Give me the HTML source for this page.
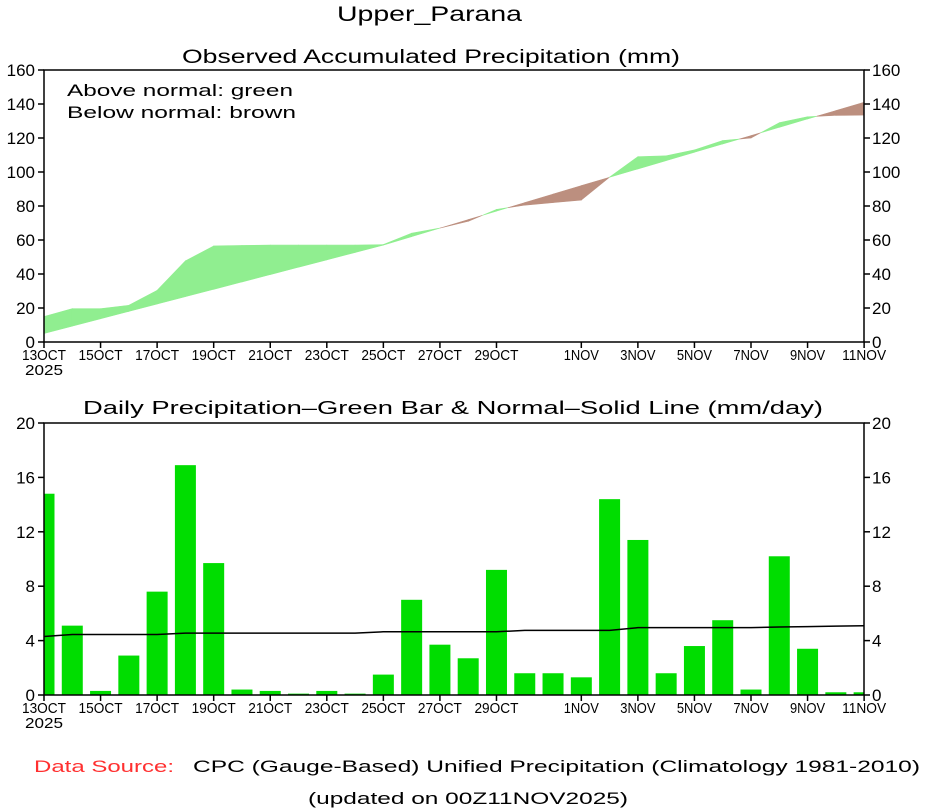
<!DOCTYPE html>
<html><head><meta charset="utf-8"><style>
body{margin:0;background:#fff}
svg{display:block}
text{font-family:"Liberation Sans",sans-serif;fill:#000}
</style></head><body>
<svg id="s" width="933" height="809" xmlns="http://www.w3.org/2000/svg">
<text x="337" y="21" font-size="21" textLength="185" lengthAdjust="spacingAndGlyphs">Upper_Parana</text>
<text x="182" y="63" font-size="19" textLength="498" lengthAdjust="spacingAndGlyphs">Observed Accumulated Precipitation (mm)</text>
<text x="83" y="414" font-size="18" textLength="740" lengthAdjust="spacingAndGlyphs">Daily Precipitation–Green Bar &amp; Normal–Solid Line (mm/day)</text>
<text x="67" y="96" font-size="17" textLength="226" lengthAdjust="spacingAndGlyphs">Above normal: green</text>
<text x="67" y="118" font-size="17" textLength="229" lengthAdjust="spacingAndGlyphs">Below normal: brown</text>
<text x="34" y="772" font-size="17" style="fill:#ff3030" textLength="140" lengthAdjust="spacingAndGlyphs">Data Source:</text>
<text x="193" y="772" font-size="17" textLength="727" lengthAdjust="spacingAndGlyphs">CPC (Gauge-Based) Unified Precipitation (Climatology 1981-2010)</text>
<text x="308" y="804" font-size="17" textLength="320" lengthAdjust="spacingAndGlyphs">(updated on 00Z11NOV2025)</text>
<g id="g"></g>
</svg>
<script>
var g=document.getElementById('g'),h='';
var X0=44,DX=28.28;
function x(d){return X0+d*DX}
var Y0=342,K=1.7;function yt(v){return Y0-v*K}
var obs=[15,19.6,19.6,21.6,30.4,47.7,56.5,56.8,57,57,57,57,57.3,64,67,71,78,80.5,82,83.5,97,109,109.5,113,118.5,120,129,132.5,133.3,133.5];
var nrm=[];for(var d=0;d<30;d++){var v;if(d<=12)v=5+d*52/12;else if(d<=19)v=57+(d-12)*35/7;else v=92+(d-19)*49/10;nrm.push(v)}
for(var d=0;d<29;d++){var a0=obs[d]-nrm[d],a1=obs[d+1]-nrm[d+1];
 function poly(t0,t1,col){var xa=x(d+t0),xb=x(d+t1);
  var o0=obs[d]+(obs[d+1]-obs[d])*t0,o1=obs[d]+(obs[d+1]-obs[d])*t1,n0=nrm[d]+(nrm[d+1]-nrm[d])*t0,n1=nrm[d]+(nrm[d+1]-nrm[d])*t1;
  h+='<polygon points="'+xa+','+yt(o0)+' '+xb+','+yt(o1)+' '+xb+','+yt(n1)+' '+xa+','+yt(n0)+'" fill="'+col+'" stroke="'+col+'" stroke-width="0.6"/>';}
 if(a0*a1<0){var t=a0/(a0-a1);poly(0,t,a0>0?'#90ee90':'#bc8f7f');poly(t,1,a1>0?'#90ee90':'#bc8f7f');}
 else poly(0,1,(a0+a1)>=0?'#90ee90':'#bc8f7f');}
h+='<rect x="44" y="70" width="820" height="272" fill="none" stroke="#000" stroke-width="1.5"/>';
for(var v=0;v<=160;v+=20){var yy=yt(v);h+='<line x1="38" x2="44" y1="'+yy+'" y2="'+yy+'" stroke="#000" stroke-width="1.5"/><line x1="864" x2="870" y1="'+yy+'" y2="'+yy+'" stroke="#000" stroke-width="1.5"/>';
 h+='<text x="35" y="'+(yy+6)+'" font-size="17" text-anchor="end">'+v+'</text><text x="872" y="'+(yy+6)+'" font-size="17">'+v+'</text>';}
var labs=[[0,'13OCT'],[2,'15OCT'],[4,'17OCT'],[6,'19OCT'],[8,'21OCT'],[10,'23OCT'],[12,'25OCT'],[14,'27OCT'],[16,'29OCT'],[19,'1NOV'],[21,'3NOV'],[23,'5NOV'],[25,'7NOV'],[27,'9NOV'],[29,'11NOV']];
function xl(yb,yl){labs.forEach(function(l){var xx=x(l[0]);h+='<line x1="'+xx+'" x2="'+xx+'" y1="'+yb+'" y2="'+(yb+6)+'" stroke="#000" stroke-width="1.5"/>';
 h+='<text x="'+xx+'" y="'+yl+'" font-size="15" text-anchor="middle" textLength="'+(l[1].length*8.8)+'" lengthAdjust="spacingAndGlyphs">'+l[1]+'</text>';});
 h+='<text x="44" y="'+(yl+15)+'" font-size="15" text-anchor="middle" textLength="38" lengthAdjust="spacingAndGlyphs">2025</text>';}
xl(342,360);
var B0=695,BK=13.6;function yb(v){return B0-v*BK}
var bars=[14.8,5.1,0.3,2.9,7.6,16.9,9.7,0.4,0.3,0.1,0.3,0.1,1.5,7.0,3.7,2.7,9.2,1.6,1.6,1.3,14.4,11.4,1.6,3.6,5.5,0.4,10.2,3.4,0.2,0.2];
bars.forEach(function(v,d){var xa=Math.max(44,x(d)-10.5),xb=Math.min(864,x(d)+10.5);h+='<rect x="'+xa+'" y="'+yb(v)+'" width="'+(xb-xa)+'" height="'+(v*BK)+'" fill="#00dd00"/>';});
var p='';for(var d=0;d<=29;d++){var nv=d<1?4.3:d<5?4.45:d<12?4.55:d<17?4.65:d<21?4.75:d<26?4.95:5.0+(d-26)*0.03;p+=(d?' L':'M')+x(d)+','+yb(nv);}
h+='<path d="'+p+'" fill="none" stroke="#000" stroke-width="1.5"/>';
h+='<rect x="44" y="423" width="820" height="272" fill="none" stroke="#000" stroke-width="1.5"/>';
for(var v=0;v<=20;v+=4){var yy=yb(v);h+='<line x1="38" x2="44" y1="'+yy+'" y2="'+yy+'" stroke="#000" stroke-width="1.5"/><line x1="864" x2="870" y1="'+yy+'" y2="'+yy+'" stroke="#000" stroke-width="1.5"/>';
 h+='<text x="35" y="'+(yy+6)+'" font-size="17" text-anchor="end">'+v+'</text><text x="872" y="'+(yy+6)+'" font-size="17">'+v+'</text>';}
xl(695,713);
g.innerHTML=h;
</script>
</body></html>
